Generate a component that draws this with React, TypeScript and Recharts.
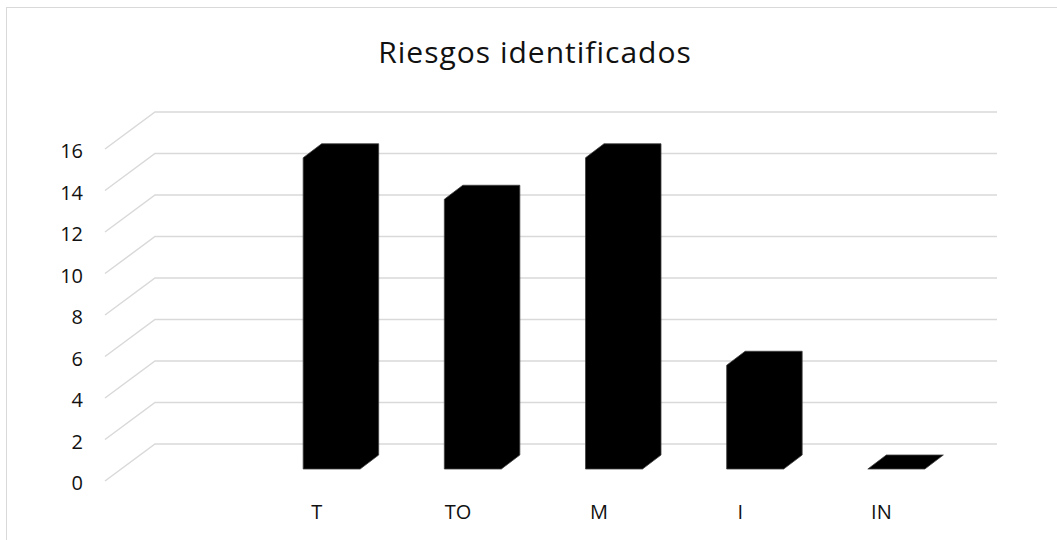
import React from 'react';
import { BarChart, Bar, XAxis, YAxis, CartesianGrid } from 'recharts';

const categories = ['', 'T', 'TO', 'M', 'I', 'IN'];
const riesgos: (number | null)[] = [null, 15, 13, 15, 5, 0];
const yTicks = [0, 2, 4, 6, 8, 10, 12, 14, 16];
const title = 'Riesgos identificados';

const data = categories.map((name, i) => ({ name, value: riesgos[i] }));

const FONT = '"Open Sans", sans-serif';
const GRID = '#d9d9d9';
// 3D depth offsets (relative to the plane of the bar fronts)
const BAR_DX = 18.5;
const BAR_DY = 14;
const FRONT_DX = -15;
const FRONT_DY = 12;
const BACK_DX = 35;
const BACK_DY = -25;

const Bar3D = (props: any) => {
  const { x, y, width, height, payload } = props;
  if (payload == null || payload.value == null) return null;
  const x0 = x;
  const x1 = x + width;
  const yt = y;
  const yb = y + height;
  const d = [
    `M${x0},${yb}`,
    `L${x0},${yt}`,
    `L${x0 + BAR_DX},${yt - BAR_DY}`,
    `L${x1 + BAR_DX},${yt - BAR_DY}`,
    `L${x1 + BAR_DX},${yb - BAR_DY}`,
    `L${x1},${yb}`,
    'Z',
  ].join('');
  return <path d={d} fill="#000" stroke="#404040" strokeWidth={0.8} strokeLinejoin="round" />;
};

const gridLine = (p: any) => {
  const { x1, x2, y1, index } = p;
  const d = `M${x1 + FRONT_DX},${y1 + FRONT_DY}L${x1 + BACK_DX},${y1 + BACK_DY}L${x2 + 30},${y1 + BACK_DY}`;
  return <path key={`g-${index}-${y1}`} d={d} stroke={GRID} strokeWidth={1.5} fill="none" />;
};

const YTick = (props: any) => {
  const { x, y, payload } = props;
  return (
    <text x={x - 29} y={y + 21} textAnchor="end" fontFamily={FONT} fontSize={20} fill="#111">
      {payload.value}
    </text>
  );
};

const XTick = (props: any) => {
  const { x, y, payload } = props;
  return (
    <text x={x + FRONT_DX} y={y + 42} textAnchor="middle" fontFamily={FONT} fontSize={20} fill="#111">
      {payload.value}
    </text>
  );
};

export default function App() {
  return (
    <div style={{ position: 'absolute', left: 0, top: 0, width: 1057, height: 540, overflow: 'hidden', background: '#fff' }}>
      <div
        style={{
          position: 'absolute',
          left: 6,
          top: 7,
          width: 1100,
          height: 600,
          border: `1px solid ${GRID}`,
          boxSizing: 'border-box',
        }}
      />
      <div
        style={{
          position: 'absolute',
          left: 0,
          width: 1070,
          top: 32,
          textAlign: 'center',
          fontFamily: FONT,
          fontSize: 30,
          letterSpacing: 1,
          lineHeight: '40px',
          color: '#111',
        }}
      >
        {title}
      </div>
      <div style={{ position: 'absolute', left: 0, top: 0 }}>
        <BarChart width={1057} height={540} data={data} margin={{ top: 137, right: 90, bottom: 0, left: 0 }} barSize={57}>
          <CartesianGrid vertical={false} horizontal={gridLine} />
          <XAxis dataKey="name" height={71} axisLine={false} tickLine={false} interval={0} tick={<XTick />} />
          <YAxis width={120} domain={[0, 16]} ticks={yTicks} axisLine={false} tickLine={false} interval={0} tick={<YTick />} />
          <Bar dataKey="value" isAnimationActive={false} shape={<Bar3D />} />
        </BarChart>
      </div>
    </div>
  );
}
